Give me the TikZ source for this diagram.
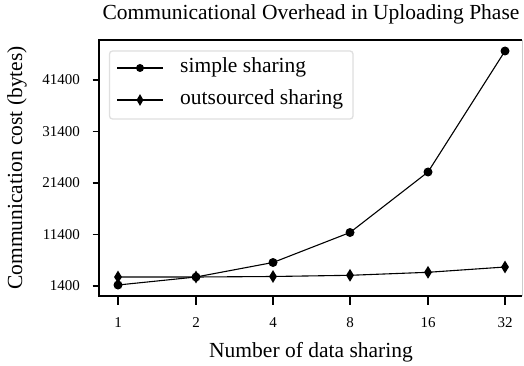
\documentclass[tikz,border=0pt]{standalone}
\usepackage{fontspec}
\setmainfont{Liberation Serif}
\usetikzlibrary{shapes.geometric}
\begin{document}
\begin{tikzpicture}[x=1pt,y=-1pt,
  lab/.style={font=\fontsize{21.5}{24}\selectfont, inner sep=0pt},
  ticklab/.style={font=\fontsize{15}{17}\selectfont, inner sep=0pt},
  spine/.style={line width=1.8pt, black},
  tickmark/.style={line width=1.6pt, black},
  series/.style={line width=1.1pt, black},
  dot/.style={circle, fill=black, inner sep=0pt, minimum size=9pt},
  gem/.style={diamond, fill=black, inner sep=0pt, minimum width=8pt, minimum height=13pt},
  legdot/.style={circle, fill=black, inner sep=0pt, minimum size=8pt},
  leggem/.style={diamond, fill=black, inner sep=0pt, minimum width=7pt, minimum height=12pt}]
\useasboundingbox (0,0) rectangle (524,366);

% axes frame
\draw[gray!40, line width=0.8pt] (522,40) -- (522,296);
\draw[spine] (522,40) -- (99,40) -- (99,296) -- (522,296);

% y ticks and labels
\foreach \v/\py in {1400/286, 11400/234.5, 21400/183, 31400/131.5, 41400/80} {
  \draw[tickmark] (92.5,\py) -- (99,\py);
  \node[ticklab, anchor=east] (yt\v) at (80,\py) {\v};
}
% x ticks and labels
\foreach \n/\px in {1/118, 2/196, 4/273, 8/350, 16/428, 32/505} {
  \draw[tickmark] (\px,296) -- (\px,304.5);
  \node[ticklab] (xt\n) at (\px,323) {\n};
}

% axis titles and heading
\node[lab] (title) at (311,14) {Communicational Overhead in Uploading Phase};
\node[lab] (xlabel) at (311,352) {Number of data sharing};
\node[lab, rotate=90] (ylabel) at (17,168) {Communication cost (bytes)};

% simple sharing
\node[dot] (s1) at (118,285) {};
\node[dot] (s2) at (196,277) {};
\node[dot] (s4) at (273,262.5) {};
\node[dot] (s8) at (350,232.5) {};
\node[dot] (s16) at (428,172) {};
\node[dot] (s32) at (505,51) {};
\draw[series] (s1.center) -- (s2.center) -- (s4.center) -- (s8.center) -- (s16.center) -- (s32.center);

% outsourced sharing
\node[gem] (o1) at (118,277) {};
\node[gem] (o2) at (196,277) {};
\node[gem] (o4) at (273,276.5) {};
\node[gem] (o8) at (350,275.3) {};
\node[gem] (o16) at (428,272.3) {};
\node[gem] (o32) at (505,267) {};
\draw[series] (o1.center) -- (o2.center) -- (o4.center) -- (o8.center) -- (o16.center) -- (o32.center);

% legend
\draw[gray!25, line width=1.3pt, fill=white, rounded corners=3pt] (109.5,51) rectangle (353,119);
\coordinate (la1) at (117,68);
\coordinate (lb1) at (163,68);
\coordinate (la2) at (117,100);
\coordinate (lb2) at (163,100);
\draw[series] (la1) -- (lb1);
\draw[series] (la2) -- (lb2);
\node[legdot] (lm1) at (140,68) {};
\node[leggem] (lm2) at (140,100) {};
\node[lab, anchor=west] (lt1) at (180,68) {\strut simple sharing};
\node[lab, anchor=west] (lt2) at (180,100) {\strut outsourced sharing};
\end{tikzpicture}
\end{document}
